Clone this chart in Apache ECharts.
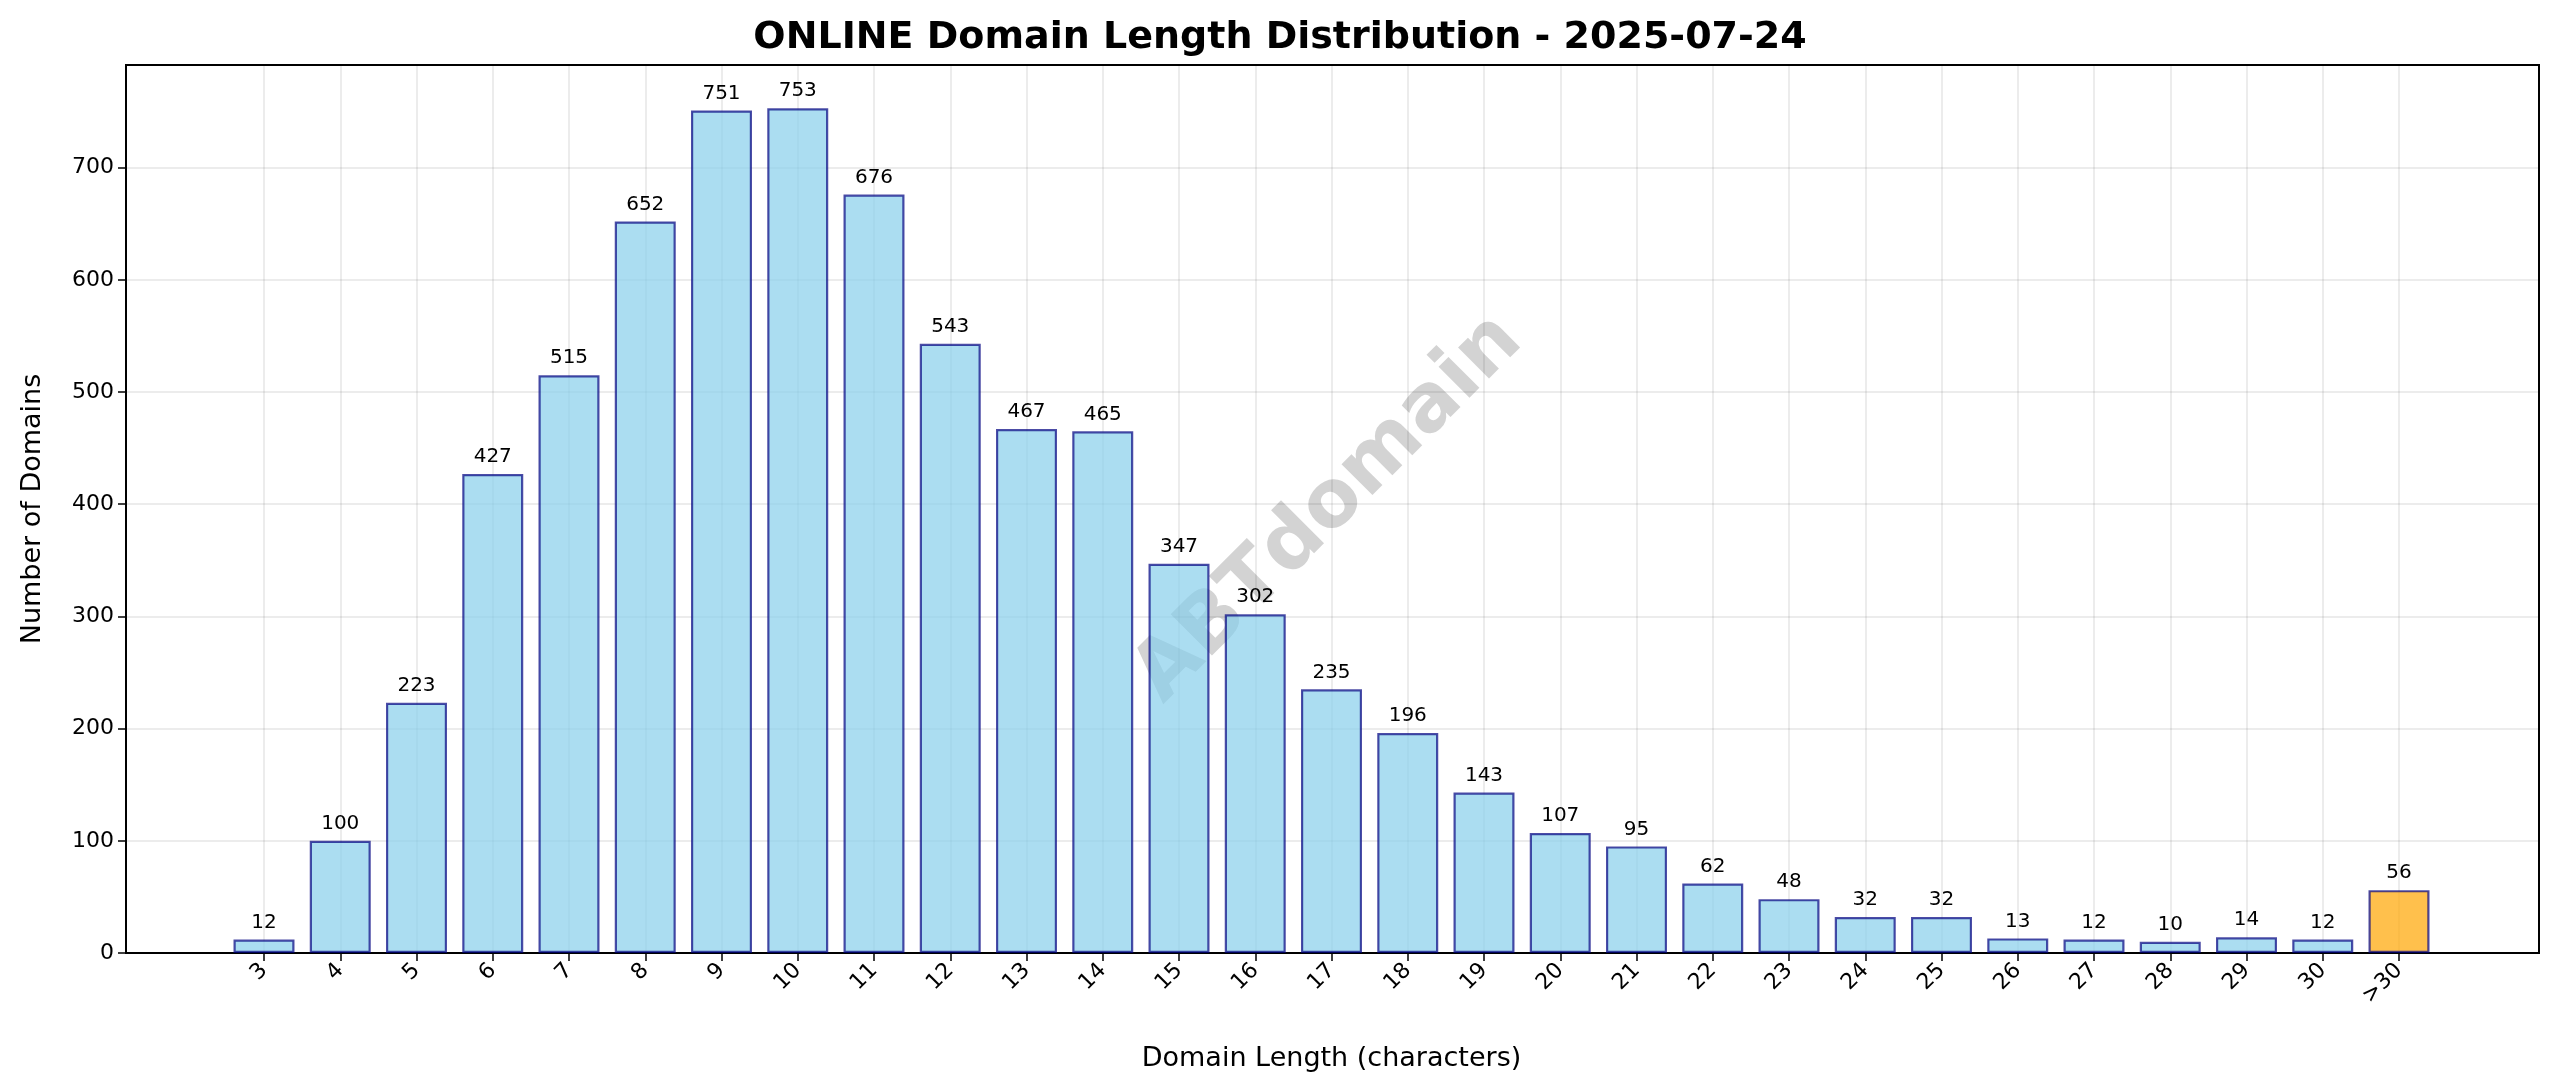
<!DOCTYPE html>
<html><head><meta charset="utf-8">
<script src="https://cdn.jsdelivr.net/npm/echarts@6/dist/echarts.min.js"></script>
<style>html,body{margin:0;padding:0;background:#fff}#c{width:2560px;height:1087px}</style>
</head><body><div id="c"></div>
<script>
const categories = ['3','4','5','6','7','8','9','10','11','12','13','14','15','16','17','18','19','20','21','22','23','24','25','26','27','28','29','30','>30'];
const counts = [12,100,223,427,515,652,751,753,676,543,467,465,347,302,235,196,143,107,95,62,48,32,32,13,12,10,14,12,56];
const yTicks = [0,100,200,300,400,500,600,700];
const FONT = 'DejaVu Sans';
const chart = echarts.init(document.getElementById('c'));
const YMAX = 791.5;
const data = counts.map((v,i)=>({
  value:[i,v],
  itemStyle: categories[i]==='>30' ? {color:'rgba(255,165,0,0.7)'} : {color:'rgba(135,206,235,0.7)'}
}));
chart.setOption({
  animation:false,
  title:{text:'ONLINE Domain Length Distribution - 2025-07-24',left:'center',top:14,
    textStyle:{fontFamily:FONT,fontSize:38,fontWeight:'bold',color:'#000'}},
  grid:[
    {left:126,right:21,top:65,bottom:134,show:true,borderColor:'#000',borderWidth:2,backgroundColor:'transparent'},
    {left:264,right:161,top:65,bottom:134}
  ],
  xAxis:[
    {gridIndex:0,type:'value',min:0,max:1,show:false},
    {gridIndex:1,type:'value',min:0,max:28,interval:1,
      name:'Domain Length (characters)',nameLocation:'middle',nameGap:92,
      nameTextStyle:{fontFamily:FONT,fontSize:27,color:'#000'},
      axisLine:{show:false},
      axisTick:{show:true,length:8,lineStyle:{color:'#000',width:1.5}},
      axisLabel:{rotate:45,fontFamily:FONT,fontSize:22,color:'#000',margin:14,
        formatter:v=>categories[v]},
      splitLine:{show:true,lineStyle:{color:'rgba(0,0,0,0.1)',width:1.5}}}
  ],
  yAxis:[
    {gridIndex:0,type:'value',min:0,max:YMAX,interval:100,
      name:'Number of Domains',nameLocation:'middle',nameGap:80,
      nameTextStyle:{fontFamily:FONT,fontSize:27,color:'#000'},
      axisLine:{show:false},axisTick:{show:true,length:8,lineStyle:{color:'#000',width:1.5}},
      axisLabel:{fontFamily:FONT,fontSize:22,color:'#000',margin:12,showMaxLabel:false,
        formatter:v=>yTicks.includes(v)?String(v):''},
      splitLine:{show:true,lineStyle:{color:'rgba(0,0,0,0.1)',width:1.5}}},
    {gridIndex:1,type:'value',min:0,max:YMAX,show:false}
  ],
  series:[{
    type:'bar',xAxisIndex:1,yAxisIndex:1,data:data,barWidth:61,clip:false,
    itemStyle:{borderColor:'rgba(0,0,128,0.7)',borderWidth:2.2},
    label:{show:true,position:'top',distance:7,fontFamily:FONT,fontSize:20,color:'#000',
      formatter:p=>p.value[1]}
  }],
  graphic:[{type:'text',x:1329,y:509,rotation:Math.PI/4,
    style:{text:'ABTdomain',fontFamily:FONT,fontSize:80,fontWeight:'bold',
      fill:'rgba(128,128,128,0.35)',textAlign:'center',textVerticalAlign:'middle'}}]
});
</script></body></html>
